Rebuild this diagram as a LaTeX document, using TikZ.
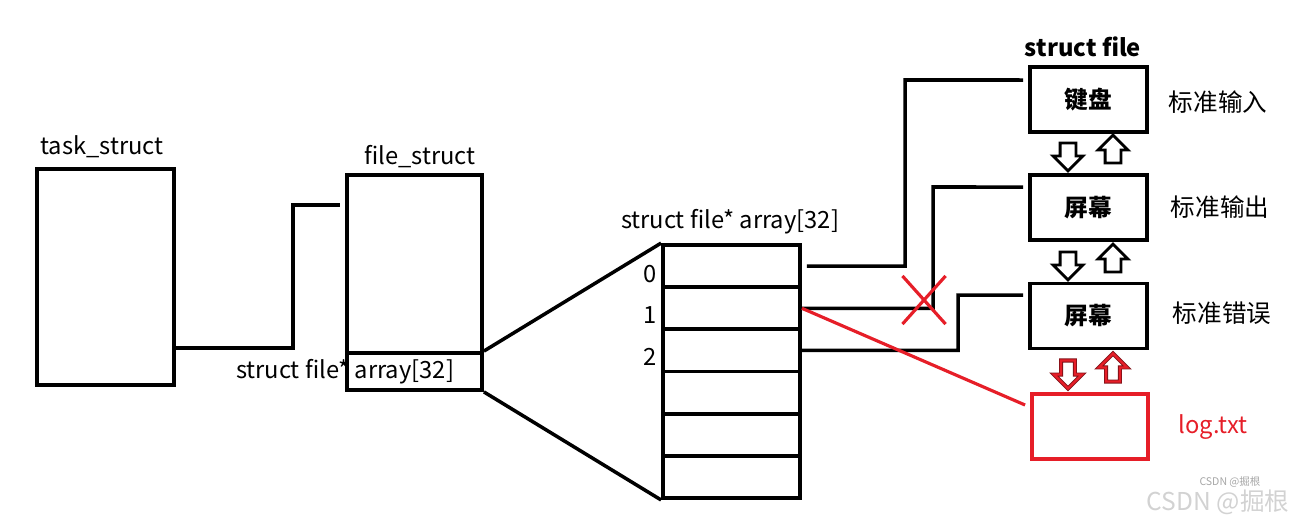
\documentclass[tikz,border=0pt]{standalone}
\usepackage{fontspec}
\setmainfont{Noto Sans CJK SC}
\usepackage{tikz}
\usetikzlibrary{shapes.arrows,shapes.misc}

\definecolor{logred}{RGB}{230,30,40}

\begin{document}
\begin{tikzpicture}[
  x=0.02cm, y=-0.02cm,
  font=\fontsize{13.5}{16}\selectfont,
  box/.style={draw, line width=2.2pt, inner sep=0pt},
  cell/.style={box, minimum width=2.74cm, minimum height=0.843cm},
  dev/.style={box, minimum width=2.34cm, minimum height=1.3cm, font=\fontsize{13.5}{16}\selectfont\bfseries},
  conn/.style={line width=2pt},
  flow/.style={single arrow, draw, line width=1.6pt, fill=white, inner xsep=0.08cm, inner ysep=0.13cm,
    minimum height=0.56cm, single arrow head extend=0.14cm},
  redflow/.style={flow, draw=logred!55!black, line width=0.5pt, double=logred, double distance=1.3pt}
]
\useasboundingbox (0,0) rectangle (1290,521);
% task_struct and file_struct
\node[box, minimum width=2.74cm, minimum height=4.32cm] (task) at (105.5,277) {};
\node (tasklbl) at (102,147) {task\_struct};
\node[box, minimum width=2.7cm, minimum height=3.56cm] (file) at (414.5,264) {};
\node[box, minimum width=2.7cm, minimum height=0.74cm] (fcell) at (414.5,371.5) {};
\node (filelbl) at (420,157) {file\_struct};
\node (fcelllbl) at (345,372) {struct file* array[32]};
\coordinate (fin) at (340,205);
% fd array
\foreach \i in {0,...,5}
  \node[cell] (arr\i) at (731.5,{266.1+42.17*\i}) {};
\node (arrlbl) at (730,222) {struct file* array[32]};
\node (idx0) at (650,274) {0};
\node (idx1) at (650,315) {1};
\node (idx2) at (650,357) {2};
% struct file objects
\node (sflbl) at (1083,47) {\bfseries struct file};
\node[dev] (kbd) at (1088.5,99.5) {键盘};
\node[dev] (scr) at (1088.5,207.5) {屏幕};
\node[dev] (err) at (1088.5,316) {屏幕};
\node[box, draw=logred, minimum width=2.32cm, minimum height=1.3cm] (logf) at (1090,426.5) {};
\node[font=\fontsize{14}{16}\selectfont] (inlbl)  at (1218,102) {标准输入};
\node[font=\fontsize{14}{16}\selectfont] (outlbl) at (1220,207) {标准输出};
\node[font=\fontsize{14}{16}\selectfont] (errlbl) at (1222,313) {标准错误};
\node[text=logred] (loglbl) at (1213,427) {log.txt};
% up/down arrows between files
\node[flow, rotate=-90] (d1) at (1068,153) {};
\node[flow, rotate=90]  (u1) at (1113,153) {};
\node[flow, rotate=-90] (d2) at (1068,262) {};
\node[flow, rotate=90]  (u2) at (1113,262) {};
\node[redflow, rotate=-90] (d3) at (1068,371) {};
\node[redflow, rotate=90]  (u3) at (1113,371) {};
% connectors
\draw[conn] ([yshift=-1.42cm]task.east) -| (293,205) -- (fin);
\draw[conn] (fcell.north east) -- (arr0.north west);
\draw[conn] (fcell.south east) -- (arr5.south west);
\draw[conn] ([xshift=1mm]arr0.east) -| (905,80) -- ([xshift=-1mm,yshift=0.39cm]kbd.west);
\draw[conn] (arr1.east) -| (933,187) -- ([xshift=-1mm,yshift=0.41cm]scr.west);
\draw[conn] (arr2.east) -| (958,295) -- ([xshift=-1mm,yshift=0.42cm]err.west);
\draw[line width=1.8pt, logred] (arr1.east) -- ([xshift=-1mm,yshift=0.43cm]logf.west);
\node[cross out, draw=logred, line width=1.8pt, minimum width=0.8cm, minimum height=0.9cm] (cut) at (924,300) {};
% watermark
\node[text=gray!70, font=\fontsize{6}{7}\selectfont] (wm1) at (1230,482) {CSDN @掘根};
\node[text=gray!35, font=\fontsize{14}{16}\selectfont] (wm2) at (1218,502) {CSDN @掘根};
\end{tikzpicture}
\end{document}
